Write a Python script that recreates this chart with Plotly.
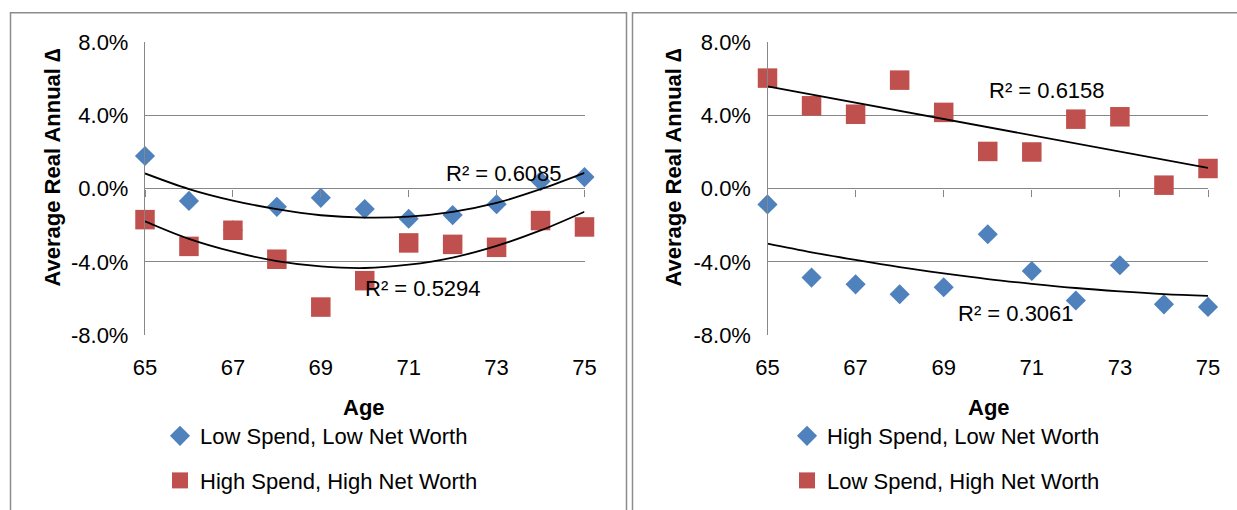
import plotly.graph_objects as go

# ---------------- data ----------------
ages = [65, 66, 67, 68, 69, 70, 71, 72, 73, 74, 75]
x_tick_vals = [65, 67, 69, 71, 73, 75]
x_tick_text = ["65", "67", "69", "71", "73", "75"]
y_tick_vals = [-8, -4, 0, 4, 8]
y_tick_text = ["-8.0%", "-4.0%", "0.0%", "4.0%", "8.0%"]

# left panel (values in %)
low_spend_low_nw = [1.78, -0.67, -2.27, -0.99, -0.50, -1.11, -1.64, -1.44, -0.85, 0.41, 0.63]
high_spend_high_nw = [-1.69, -3.15, -2.27, -3.85, -6.46, -5.02, -2.96, -3.04, -3.20, -1.74, -2.09]
# right panel (values in %)
high_spend_low_nw = [-0.86, -4.85, -5.22, -5.76, -5.38, -2.49, -4.49, -6.10, -4.18, -6.31, -6.45]
low_spend_high_nw = [6.03, 4.52, 4.06, 5.92, 4.16, 2.03, 2.00, 3.79, 3.92, 0.19, 1.10]

# trendlines as drawn in the reference
trend_low_spend_low_nw = [0.83, -0.02, -0.65, -1.12, -1.45, -1.58, -1.53, -1.27, -0.78, -0.03, 0.86]
trend_high_spend_high_nw = [-1.78, -2.74, -3.44, -3.95, -4.24, -4.33, -4.15, -3.76, -3.12, -2.28, -1.26]
trend_high_spend_low_nw = [-3.00, -3.47, -3.89, -4.28, -4.62, -4.93, -5.19, -5.42, -5.60, -5.75, -5.85]
trend_low_high_ages = [65, 75]
trend_low_spend_high_nw = [5.58, 1.13]

r2_labels = ["R² = 0.6085", "R² = 0.5294", "R² = 0.6158", "R² = 0.3061"]

# ---------------- layout helpers ----------------
W, H = 1237, 510
def px_x(p):
    return p / W
def px_y(p):
    return 1 - p / H

FONT = "Liberation Sans, Arial, sans-serif"
FS = 22
GRID = "#878787"
BLUE = "#4F81BD"
RED = "#C0504D"

left_dom_x = [px_x(145), px_x(584.5)]
right_dom_x = [px_x(767.5), px_x(1208)]
dom_y = [px_y(335.3), px_y(42)]
mid_y = (dom_y[0] + dom_y[1]) / 2

fig = go.Figure()

# left markers
fig.add_trace(go.Scatter(x=ages, y=low_spend_low_nw, mode="markers", name="Low Spend, Low Net Worth",
                         marker=dict(symbol="diamond", size=15.5, color=BLUE),
                         xaxis="x", yaxis="y", legend="legend", legendgroup="a", cliponaxis=False))
fig.add_trace(go.Scatter(x=ages, y=high_spend_high_nw, mode="markers", name="High Spend, High Net Worth",
                         marker=dict(symbol="square", size=19.5, color=RED),
                         xaxis="x", yaxis="y", legend="legend", legendgroup="b", cliponaxis=False))
# left trendlines
fig.add_trace(go.Scatter(x=ages, y=trend_low_spend_low_nw, mode="lines", line=dict(color="black", width=1.8, shape="spline"),
                         xaxis="x3", yaxis="y", showlegend=False, hoverinfo="skip"))
fig.add_trace(go.Scatter(x=ages, y=trend_high_spend_high_nw, mode="lines", line=dict(color="black", width=1.8, shape="spline"),
                         xaxis="x3", yaxis="y", showlegend=False, hoverinfo="skip"))

# right markers
fig.add_trace(go.Scatter(x=ages, y=high_spend_low_nw, mode="markers", name="High Spend, Low Net Worth",
                         marker=dict(symbol="diamond", size=15.5, color=BLUE),
                         xaxis="x2", yaxis="y2", legend="legend2", legendgroup="c", cliponaxis=False))
fig.add_trace(go.Scatter(x=ages, y=low_spend_high_nw, mode="markers", name="Low Spend, High Net Worth",
                         marker=dict(symbol="square", size=19.5, color=RED),
                         xaxis="x2", yaxis="y2", legend="legend2", legendgroup="d", cliponaxis=False))
# right trendlines
fig.add_trace(go.Scatter(x=ages, y=trend_high_spend_low_nw, mode="lines", line=dict(color="black", width=1.8, shape="spline"),
                         xaxis="x4", yaxis="y2", showlegend=False, hoverinfo="skip"))
fig.add_trace(go.Scatter(x=trend_low_high_ages, y=trend_low_spend_high_nw, mode="lines", line=dict(color="black", width=1.8),
                         xaxis="x4", yaxis="y2", showlegend=False, hoverinfo="skip"))

tickfont = dict(family=FONT, size=FS, color="black")

def main_x(domain, anchor):
    return dict(domain=domain, anchor=anchor, range=[65, 75], tickvals=x_tick_vals, ticktext=x_tick_text,
                ticks="", showgrid=False, showline=False, zeroline=False, tickfont=tickfont,
                ticklabelstandoff=17, fixedrange=True, automargin=False)

def tick_x(overlay, domain):
    return dict(domain=domain, overlaying=overlay, anchor="free", position=mid_y, range=[65, 75],
                tickvals=x_tick_vals, ticks="outside", ticklen=7, tickwidth=1.3, tickcolor=GRID,
                showticklabels=False, showgrid=False, showline=False, zeroline=False, fixedrange=True,
                automargin=False)

def main_y(anchor):
    return dict(domain=dom_y, anchor=anchor, range=[-8, 8], tickvals=y_tick_vals, ticktext=y_tick_text,
                showgrid=True, gridcolor=GRID, gridwidth=1.3, showline=True, linecolor=GRID, linewidth=1.3,
                zeroline=False, ticks="", ticklabelstandoff=11, tickfont=tickfont, fixedrange=True,
                automargin=False)

legend_font = dict(family=FONT, size=FS, color="black")

fig.update_layout(
    width=W, height=H,
    margin=dict(l=0, r=0, t=0, b=0, autoexpand=False),
    paper_bgcolor="white", plot_bgcolor="white",
    xaxis=main_x(left_dom_x, "y"),
    xaxis2=main_x(right_dom_x, "y2"),
    xaxis3=tick_x("x", left_dom_x),
    xaxis4=tick_x("x2", right_dom_x),
    yaxis=main_y("x"),
    yaxis2=main_y("x2"),
    legend=dict(x=px_x(160), y=px_y(415), xref="container", yref="container", xanchor="left", yanchor="top",
                font=legend_font, tracegroupgap=13, bgcolor="rgba(0,0,0,0)", itemclick=False),
    legend2=dict(x=px_x(787), y=px_y(415), xref="container", yref="container", xanchor="left", yanchor="top",
                 font=legend_font, tracegroupgap=13, bgcolor="rgba(0,0,0,0)", itemclick=False),
    showlegend=True,
    shapes=[
        dict(type="rect", xref="paper", yref="paper", x0=px_x(10.5), x1=px_x(626.5), y0=px_y(530), y1=px_y(12.7),
             line=dict(color="#8c8c8c", width=1.5), fillcolor="rgba(0,0,0,0)", layer="below"),
        dict(type="rect", xref="paper", yref="paper", x0=px_x(632.5), x1=px_x(1260), y0=px_y(530), y1=px_y(12.7),
             line=dict(color="#8c8c8c", width=1.5), fillcolor="rgba(0,0,0,0)", layer="below"),
    ],
)

ann = []
# axis titles
for xc in [52, 673]:
    ann.append(dict(text="<b>Average Real Annual ∆</b>", textangle=-90, x=px_x(xc), y=px_y(167.5),
                    xref="paper", yref="paper", showarrow=False, font=dict(family=FONT, size=FS, color="black"),
                    xanchor="center", yanchor="middle"))
for xc in [364.5, 988.5]:
    ann.append(dict(text="<b>Age</b>", x=px_x(xc), y=px_y(407), xref="paper", yref="paper", showarrow=False,
                    font=dict(family=FONT, size=FS, color="black"), xanchor="center", yanchor="middle"))
# R² labels
r2_pos = [("x", "y", 73.17, 0.80), ("x", "y", 71.33, -5.45), ("x2", "y2", 71.34, 5.36), ("x2", "y2", 70.65, -6.80)]
for label, (xr, yr, xv, yv) in zip(r2_labels, r2_pos):
    ann.append(dict(text=label, x=xv, y=yv, xref=xr, yref=yr, showarrow=False,
                    font=dict(family=FONT, size=FS, color="black"), xanchor="center", yanchor="middle"))
fig.update_layout(annotations=ann)

fig.write_html("out.html", config={"displayModeBar": False},
               post_script="document.body.style.margin='0';")
